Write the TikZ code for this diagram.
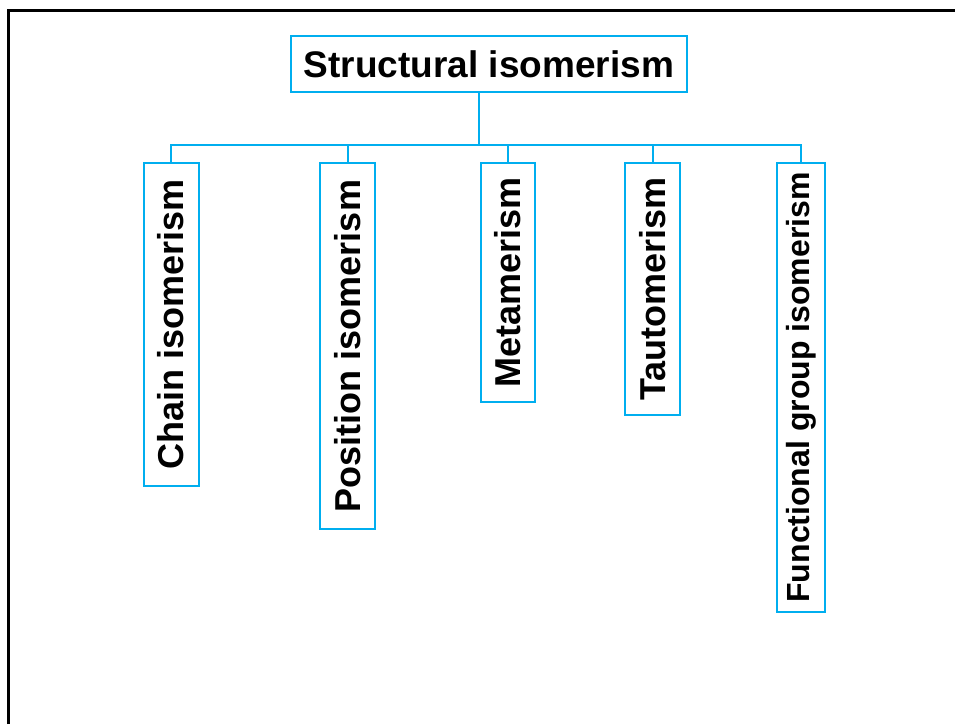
\documentclass[tikz,border=0pt]{standalone}
\usepackage{fontspec}
\setmainfont{Liberation Sans}

\begin{document}
\begin{tikzpicture}[x=1pt,y=-1pt]
        %colores
        \definecolor{lineablue}{RGB}{0,174,239}

        \tikzset{caja/.style={draw=lineablue,line width=2pt,inner sep=0pt,font=\bfseries}}

        \useasboundingbox (0,0) rectangle (955,724);
        % Marco
        \draw[line width=3pt] (8.5,724) |- (955,10.7);

        % Raiz
        \node[caja,minimum width=396,minimum height=56,font=\bfseries\fontsize{37}{40}\selectfont] (root) at (489,64) {Structural isomerism};
        \coordinate (bar) at (479.3,145);
        \draw[lineablue,line width=2pt] (bar) -- (bar |- root.south);

        % Ramas
        \foreach \n/\x/\largo/\ancho/\fs/\txt in {chain/171/323/55/36/Chain isomerism,
                position/347.5/366/55/36/Position isomerism,
                meta/508/239/54/36/Metamerism,
                tauto/652.5/252/55/36/Tautomerism,
                func/801/449/48/32/Functional group isomerism}
        {
            \node[caja,rotate=90,anchor=east,minimum width=\largo,minimum height=\ancho,font=\bfseries\fontsize{\fs}{\fs}\selectfont] (\n) at (\x,162) {\txt};
            \draw[lineablue,line width=2pt] (\n.east) |- (bar);
        }
    \end{tikzpicture}
\end{document}
